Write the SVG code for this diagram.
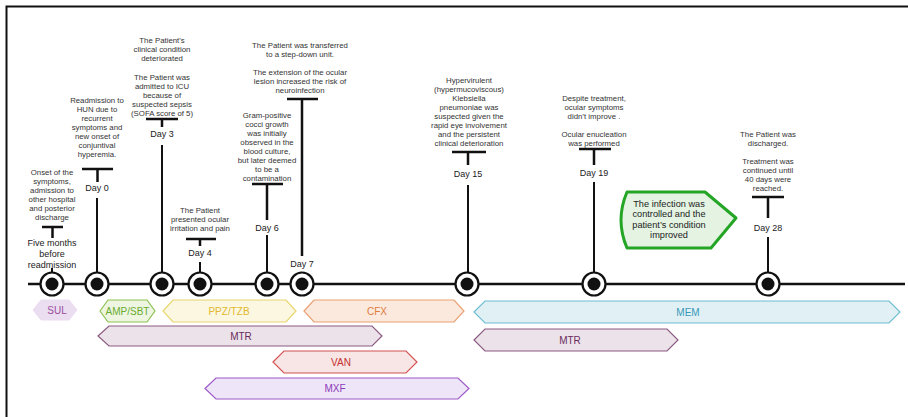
<svg xmlns="http://www.w3.org/2000/svg" width="908" height="417" viewBox="0 0 908 417">
<style>
.t{font-family:"Liberation Sans",Arial,sans-serif;font-size:7.8px;fill:#333;text-anchor:middle}
.d{font-family:"Liberation Sans",Arial,sans-serif;font-size:9px;fill:#222;text-anchor:middle}
.b{font-family:"Liberation Sans",Arial,sans-serif;font-size:10px;text-anchor:middle}
.ln{stroke:#111;stroke-width:2;fill:none}
.tb{stroke:#111;stroke-width:2.5;fill:none}
.ring{fill:#fff;stroke:#111;stroke-width:2.2}
.dot{fill:#111}
</style>
<defs>
<g id="mk"><circle class="ring" r="11.5"/><circle class="dot" r="6.5"/></g>
</defs>
<rect width="908" height="417" fill="#fff"/>
<path d="M6.5,417 V6.5 H908" stroke="#111" stroke-width="2" fill="none"/>

<g id="connectors">
<line x1="28" y1="284" x2="905" y2="284" stroke="#111" stroke-width="2.5"/>
<path class="tb" d="M42,227H63M52.5,227V238"/>
<path class="ln" d="M52,268V273"/>
<path class="tb" d="M82,169H113M97.5,169V182"/>
<path class="ln" d="M97,198V284"/>
<path class="tb" d="M146,119H178M162,119V127"/>
<path class="ln" d="M162,145V284"/>
<path class="tb" d="M186,239H216M200,239V246"/>
<path class="ln" d="M200,262V284"/>
<path class="tb" d="M252,184H283M267,184V220"/>
<path class="ln" d="M267,235V284"/>
<path class="tb" d="M287,99H318M302,99V256"/>
<path class="tb" d="M452,152H486M468,152V165"/>
<path class="ln" d="M468,185V284"/>
<path class="tb" d="M579,149H611M594,149V165"/>
<path class="ln" d="M594,182V284"/>
<path class="tb" d="M752,197H784M768,197V218"/>
<path class="ln" d="M768,237V284"/>
</g>

<g id="five-months">
<text class="t" x="52" y="175"><tspan x="52">Onset of the</tspan><tspan x="52" dy="9">symptoms,</tspan><tspan x="52" dy="9">admission to</tspan><tspan x="52" dy="9">other hospital</tspan><tspan x="52" dy="9">and posterior</tspan><tspan x="52" dy="9">discharge</tspan></text>
<text class="d" x="52" y="246"><tspan x="52">Five months</tspan><tspan x="52" dy="11">before</tspan><tspan x="52" dy="11">readmission</tspan></text>
<use href="#mk" x="52" y="284"/>
</g>

<g id="day0">
<text class="t" x="97" y="103"><tspan x="97">Readmission to</tspan><tspan x="97" dy="9">HUN due to</tspan><tspan x="97" dy="9">recurrent</tspan><tspan x="97" dy="9">symptoms and</tspan><tspan x="97" dy="9">new onset of</tspan><tspan x="97" dy="9">conjuntival</tspan><tspan x="97" dy="9">hyperemia.</tspan></text>
<text class="d" x="97" y="191">Day 0</text>
<use href="#mk" x="97" y="284"/>
</g>

<g id="day3">
<text class="t" x="162" y="43"><tspan x="162">The Patient's</tspan><tspan x="162" dy="9">clinical condition</tspan><tspan x="162" dy="9">deteriorated</tspan><tspan x="162" dy="19">The Patient was</tspan><tspan x="162" dy="9">admitted to ICU</tspan><tspan x="162" dy="9">because of</tspan><tspan x="162" dy="9">suspected sepsis</tspan><tspan x="162" dy="9">(SOFA score of 5)</tspan></text>
<text class="d" x="162" y="137">Day 3</text>
<use href="#mk" x="162" y="284"/>
</g>

<g id="day4">
<text class="t" x="200" y="213"><tspan x="200">The Patient</tspan><tspan x="200" dy="9">presented ocular</tspan><tspan x="200" dy="9">irritation and pain</tspan></text>
<text class="d" x="200" y="256">Day 4</text>
<use href="#mk" x="200" y="284"/>
</g>

<g id="day6">
<text class="t" x="267" y="118"><tspan x="267">Gram-positive</tspan><tspan x="267" dy="9">cocci growth</tspan><tspan x="267" dy="9">was initially</tspan><tspan x="267" dy="9">observed in the</tspan><tspan x="267" dy="9">blood culture,</tspan><tspan x="267" dy="9">but later deemed</tspan><tspan x="267" dy="9">to be a</tspan><tspan x="267" dy="9">contamination</tspan></text>
<text class="d" x="267" y="231">Day 6</text>
<use href="#mk" x="267" y="284"/>
</g>

<g id="day7">
<text class="t" x="300" y="48"><tspan x="300">The Patient was transferred</tspan><tspan x="300" dy="9">to a step-down unit.</tspan><tspan x="300" dy="18">The extension of the ocular</tspan><tspan x="300" dy="9">lesion increased the risk of</tspan><tspan x="300" dy="9">neuroinfection</tspan></text>
<text class="d" x="302" y="267">Day 7</text>
<use href="#mk" x="302" y="284"/>
</g>

<g id="day15">
<text class="t" x="469" y="83"><tspan x="469">Hypervirulent</tspan><tspan x="469" dy="9">(hypermucoviscous)</tspan><tspan x="469" dy="9">Klebsiella</tspan><tspan x="469" dy="9">pneumoniae was</tspan><tspan x="469" dy="9">suspected given the</tspan><tspan x="469" dy="9">rapid eye involvement</tspan><tspan x="469" dy="9">and the persistent</tspan><tspan x="469" dy="9">clinical deterioration</tspan></text>
<text class="d" x="468" y="177">Day 15</text>
<use href="#mk" x="467" y="284"/>
</g>

<g id="day19">
<text class="t" x="594" y="101"><tspan x="594">Despite treatment,</tspan><tspan x="594" dy="9">ocular symptoms</tspan><tspan x="594" dy="9">didn’t improve .</tspan><tspan x="594" dy="18">Ocular enucleation</tspan><tspan x="594" dy="9">was performed</tspan></text>
<text class="d" x="594" y="176">Day 19</text>
<use href="#mk" x="594" y="284"/>
</g>

<g id="callout">
<path d="M627,192 L705,192 L736,218 L711,248 L627,248 Q615,220 627,192 Z" fill="#e4f3e2" stroke="#25a525" stroke-width="3" stroke-linejoin="round"/>
<text class="d" x="669" y="207" style="font-size:9.2px"><tspan x="669">The infection was</tspan><tspan x="669" dy="10.3">controlled and the</tspan><tspan x="669" dy="10.3">patient’s condition</tspan><tspan x="669" dy="10.3">improved</tspan></text>
</g>

<g id="day28">
<text class="t" x="768" y="137"><tspan x="768">The Patient was</tspan><tspan x="768" dy="9">discharged.</tspan><tspan x="768" dy="18">Treatment was</tspan><tspan x="768" dy="9">continued until</tspan><tspan x="768" dy="9">40 days were</tspan><tspan x="768" dy="9">reached.</tspan></text>
<text class="d" x="768" y="231">Day 28</text>
<use href="#mk" x="768" y="284"/>
</g>

<g id="SUL">
<path d="M33,310 L41,300 L69,300 L77,310 L69,320 L41,320 Z" fill="#ebdef0" stroke="#ebdef0" stroke-width="1"/>
<text class="b" x="57" y="313.5" fill="#9a4c9e">SUL</text>
</g>
<g id="AMP-SBT">
<path d="M100,311 L108,300 L147,300 L155,311 L147,322 L108,322 Z" fill="#eef6e2" stroke="#8cc152" stroke-width="1.2"/>
<text class="b" x="127.5" y="314.5" fill="#6aab2e">AMP/SBT</text>
</g>
<g id="PPZ-TZB">
<path d="M163,311 L173,300 L286,300 L296,311 L286,322 L173,322 Z" fill="#fbf7e1" stroke="#e8d670" stroke-width="1.2"/>
<text class="b" x="229" y="314.5" fill="#e2b72e">PPZ/TZB</text>
</g>
<g id="CFX">
<path d="M304,311 L314,300 L454,300 L464,311 L454,322 L314,322 Z" fill="#fbe9dd" stroke="#e9a173" stroke-width="1.2"/>
<text class="b" x="377" y="314.5" fill="#e07a3c">CFX</text>
</g>
<g id="MEM">
<path d="M474,312 L485,301 L889,301 L900,312 L889,323 L485,323 Z" fill="#e1f0f4" stroke="#6dbdd1" stroke-width="1.2"/>
<text class="b" x="688" y="315.5" fill="#3799b8">MEM</text>
</g>
<g id="MTR-1">
<path d="M98,336 L109,326 L372,326 L382,336 L372,346 L109,346 Z" fill="#ebe3e9" stroke="#8b5a82" stroke-width="1.2"/>
<text class="b" x="241" y="339.5" fill="#6a2b5c">MTR</text>
</g>
<g id="MTR-2">
<path d="M474,340 L485,329 L667,329 L678,340 L667,351 L485,351 Z" fill="#ebe3e9" stroke="#8b5a82" stroke-width="1.2"/>
<text class="b" x="570" y="343.5" fill="#6a2b5c">MTR</text>
</g>
<g id="VAN">
<path d="M273,362 L284,351 L406,351 L417,362 L406,373 L284,373 Z" fill="#f8e5e5" stroke="#d35353" stroke-width="1.2"/>
<text class="b" x="341" y="365.5" fill="#c3302f">VAN</text>
</g>
<g id="MXF">
<path d="M205,388.5 L216,378 L458,378 L469,388.5 L458,399 L216,399 Z" fill="#efe5f8" stroke="#9b5ac6" stroke-width="1.2"/>
<text class="b" x="335" y="392" fill="#8a3ab9">MXF</text>
</g>
</svg>
